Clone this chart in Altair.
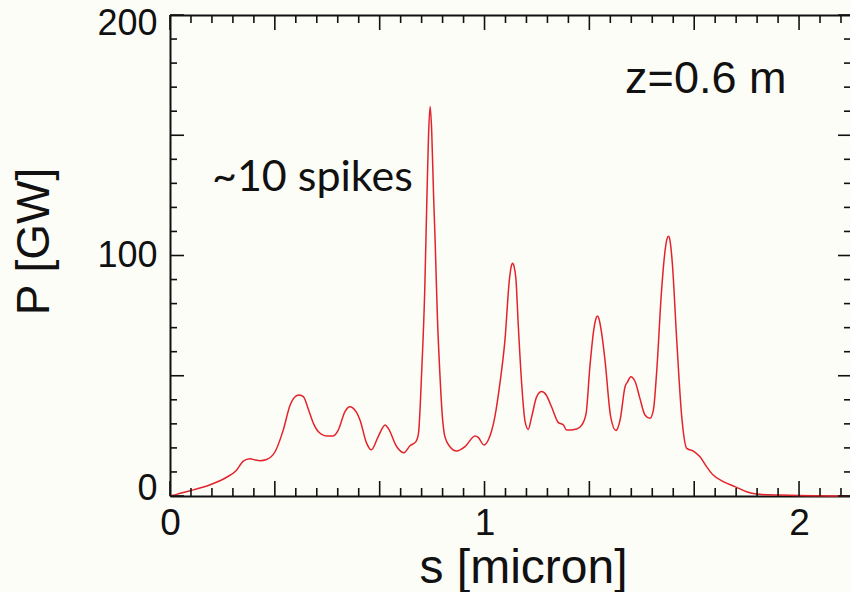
import altair as alt
import pandas as pd

# Power profile P(s) along the bunch at z = 0.6 m
s_micron = [
    0.0, 0.01, 0.03, 0.064, 0.095, 0.13, 0.18, 0.21, 0.233, 0.254, 0.27, 0.286, 0.307, 0.334,
    0.36, 0.382, 0.40, 0.411, 0.424, 0.44, 0.456, 0.472, 0.498, 0.519, 0.535, 0.556,
    0.572, 0.58, 0.604, 0.625, 0.64, 0.662, 0.684, 0.694, 0.721, 0.744, 0.763,
    0.782, 0.79, 0.80, 0.81, 0.817, 0.822, 0.827, 0.832, 0.838, 0.843, 0.85, 0.858,
    0.866, 0.874, 0.89, 0.911, 0.938, 0.97, 0.98, 0.998, 1.012, 1.033, 1.049,
    1.065, 1.079, 1.085, 1.089, 1.094, 1.10, 1.107, 1.118, 1.129, 1.139, 1.15,
    1.166, 1.182, 1.196, 1.213, 1.235, 1.251, 1.261, 1.293, 1.309, 1.323, 1.335,
    1.348, 1.354, 1.359, 1.364, 1.372, 1.383, 1.401, 1.418, 1.431, 1.447, 1.455,
    1.465, 1.479, 1.494, 1.51, 1.526, 1.537, 1.547, 1.563, 1.574, 1.58, 1.585,
    1.59, 1.597, 1.611, 1.627, 1.643, 1.664, 1.685, 1.706, 1.727, 1.759, 1.796,
    1.833, 1.865, 1.90, 1.94, 2.0, 2.045, 2.10, 2.16,
]
power_gw = [
    0.0, 0.3, 1.0, 2.2, 3.3, 4.8, 7.8, 10.5, 14.5, 15.5, 15.0, 14.7, 15.2, 18.4,
    27.4, 37.8, 41.5, 42.0, 41.3, 36.0, 30.2, 26.7, 25.0, 25.0, 27.4, 35.0,
    37.1, 36.7, 31.6, 22.0, 19.2, 24.7, 29.5, 28.1, 20.5, 18.0, 20.9,
    22.6, 26.0, 51.0, 86.0, 125.0, 150.0, 162.0, 152.0, 125.0, 106.0, 75.0, 51.0,
    33.0, 24.7, 20.5, 18.7, 20.5, 25.0, 24.4, 21.2, 23.3, 33.0, 46.9,
    64.9, 89.9, 95.5, 96.8, 95.5, 90.0, 71.8, 46.9, 30.9, 27.7, 33.0,
    41.3, 43.4, 42.0, 37.1, 30.5, 29.5, 27.4, 27.9, 29.5, 34.4, 53.8,
    69.7, 73.6, 74.8, 73.6, 68.0, 56.5, 33.0, 27.2, 31.6, 45.5, 47.5,
    49.6, 47.5, 40.6, 33.7, 32.3, 35.8, 51.0, 85.7, 102.0, 106.8, 108.0,
    106.0, 97.0, 65.0, 33.0, 19.8, 18.7, 16.3, 12.2, 8.7, 6.0, 3.9,
    1.8, 0.8, 0.5, 0.4, 0.2, 0.1, 0.05, 0.0,
]

x_labels = [0, 1, 2]
y_labels = [0, 100, 200]
x_major_ticks = [i / 3 for i in range(7)]
x_minor_ticks = [i / 15 for i in range(33) if i % 5 != 0]
y_major_ticks = [0, 50, 100, 150, 200]
y_minor_ticks = [v for v in range(10, 200, 10) if v % 50 != 0]

notes_text = ["~10 spikes", "z=0.6 m"]
notes_s = [0.1335, 1.447]
notes_p = [126.7, 167.4]
notes_font = ["Lato", "Liberation Sans"]

W, H = 680, 481
X_MAX = 2.162
INK = "#111111"
RED = "#e3232b"

x_scale = alt.Scale(domain=[0, X_MAX], nice=False, zero=False)
y_scale = alt.Scale(domain=[0, 200], nice=False)

profile = pd.DataFrame({"s": s_micron, "P": power_gw})

line = alt.Chart(profile).mark_line(
    color=RED, strokeWidth=1.5, interpolate="monotone"
).encode(
    x=alt.X(
        "s:Q", scale=x_scale,
        axis=alt.Axis(
            values=x_labels, format="d", ticks=False, tickSize=0, grid=False,
            domain=True, domainColor=INK, domainWidth=2,
            labelFont="Liberation Sans", labelFontSize=37, labelColor=INK,
            labelPadding=9, labelFlush=False,
            title="s [micron]", titleFont="Liberation Sans", titleFontSize=48,
            titleFontWeight="normal", titleColor=INK,
            titleX=353, titleY=86, titleBaseline="alphabetic", titleAlign="center",
        ),
    ),
    y=alt.Y(
        "P:Q", scale=y_scale,
        axis=alt.Axis(
            values=y_labels, format="d", ticks=False, tickSize=0, grid=False,
            domain=True, domainColor=INK, domainWidth=2,
            labelFont="Liberation Sans", labelFontSize=36, labelColor=INK,
            labelPadding=13,
            labelOffset={"expr": "datum.value == 200 ? 8 : (datum.value == 0 ? -8 : 0)"},
            title="P [GW]", titleFont="Liberation Sans", titleFontSize=46,
            titleFontWeight="normal", titleColor=INK, titleAngle=270,
            titleX=-122, titleY=226, titleBaseline="alphabetic", titleAlign="center",
        ),
    ),
)


def x_ticks(values, y0, y1, top_axis=False):
    axis = None
    if top_axis:
        axis = alt.Axis(orient="top", labels=False, ticks=False, tickSize=0,
                        grid=False, title=None, domain=True,
                        domainColor=INK, domainWidth=2)
    return alt.Chart(pd.DataFrame({"v": values})).mark_rule(
        color=INK, strokeWidth=1.6
    ).encode(
        x=alt.X("v:Q", scale=x_scale, axis=axis),
        y=alt.value(y0), y2=alt.value(y1),
    )


def y_ticks(values, x0, x1):
    return alt.Chart(pd.DataFrame({"v": values})).mark_rule(
        color=INK, strokeWidth=1.6
    ).encode(
        y=alt.Y("v:Q", scale=y_scale, axis=None),
        x=alt.value(x0), x2=alt.value(x1),
    )


tick_layers = [
    x_ticks(x_major_ticks, H, H - 15),
    x_ticks(x_minor_ticks, H, H - 8),
    x_ticks(x_major_ticks, 0, 15, top_axis=True),
    x_ticks(x_minor_ticks, 0, 8),
    y_ticks(y_major_ticks, 0, 14),
    y_ticks(y_minor_ticks, 0, 7),
    y_ticks(y_major_ticks, W, W - 12),
    y_ticks(y_minor_ticks, W, W - 6),
]

notes = pd.DataFrame({"text": notes_text, "s": notes_s, "P": notes_p, "font": notes_font})
note_layers = [
    alt.Chart(notes[notes["font"] == f]).mark_text(
        align="left", baseline="alphabetic", font=f, fontSize=fs, color=INK
    ).encode(
        x=alt.X("s:Q", scale=x_scale, axis=None),
        y=alt.Y("P:Q", scale=y_scale, axis=None),
        text="text:N",
    )
    for f, fs in [("Lato", 43), ("Liberation Sans", 45)]
]

chart = alt.layer(line, *tick_layers, *note_layers).resolve_axis(
    x="independent", y="independent"
).properties(
    width=W, height=H,
    padding={"left": 170, "top": 15, "right": 0, "bottom": 96},
    autosize=alt.AutoSizeParams(type="none"),
    background="#fdfdf8",
).configure_view(stroke=None)

chart.save("out.html", embed_options={"renderer": "svg", "actions": False})
